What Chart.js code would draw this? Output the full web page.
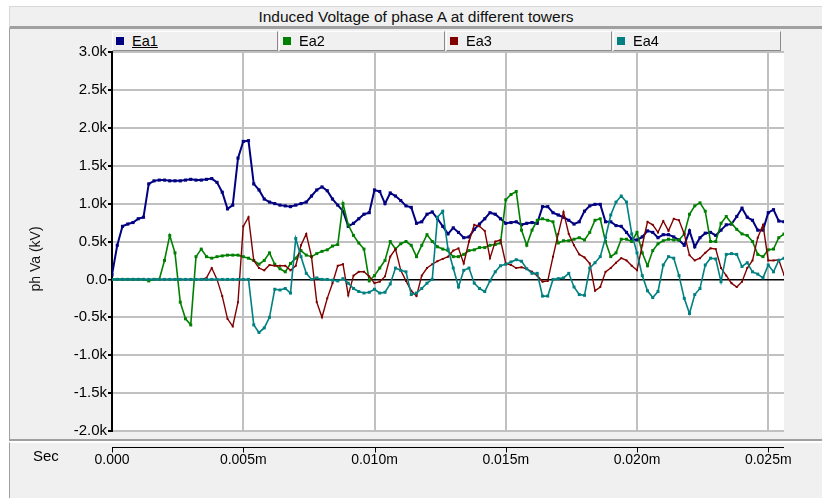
<!DOCTYPE html>
<html>
<head>
<meta charset="utf-8">
<script src="https://cdn.jsdelivr.net/npm/chart.js@4.4.0/dist/chart.umd.min.js"></script>
<style>
body { margin: 0; background: #fff; font-family: "Liberation Sans", Arial, sans-serif; }
#wrap { position: relative; width: 822px; height: 498px; overflow: hidden; }
.panel { position: absolute; background: #f0f0f0; box-sizing: border-box; }
#titlebar { left: 9px; top: 6px; width: 813px; height: 23px; border-top: 1px solid #d8d8d8; border-left: 1px solid #d8d8d8; border-bottom: 3px solid #a0a0a0; text-align: center; font-size: 15.5px; line-height: 19px; color: #111; }
#plotpanel { left: 9px; top: 29px; width: 813px; height: 412px; border-left: 1px solid #a0a0a0; border-bottom: 2px solid #a0a0a0; }
#axispanel { left: 9px; top: 442px; width: 813px; height: 56px; border-left: 1px solid #a0a0a0; border-top: 1px solid #fff; }
#chart { position: absolute; left: 0; top: 0; }
.leg { position: absolute; top: 31px; height: 20px; box-sizing: border-box; background: #f0f0f0; border: 1px solid; border-color: #fff #8a8a8a #8a8a8a #fff; font-size: 14.5px; line-height: 18px; padding-left: 19px; color: #000; }
.leg i { position: absolute; left: 3px; top: 5px; width: 8px; height: 8px; }
#ytitle { position: absolute; left: 35px; top: 259px; transform: translate(-50%, -50%) rotate(-90deg); font-size: 14px; white-space: nowrap; color: #111; }
#sec { position: absolute; left: 33px; top: 447px; font-size: 15px; }
</style>
</head>
<body>
<div id="wrap">
  <div class="panel" id="titlebar">Induced Voltage of phase A at different towers</div>
  <div class="panel" id="plotpanel"></div>
  <div class="panel" id="axispanel"></div>
  <canvas id="chart" width="822" height="498"></canvas>
  <div id="legend"></div>
  <div id="ytitle">ph Va (kV)</div>
  <div id="sec">Sec</div>
</div>
<script>
// sample spacing of the traces (same units as the x axis labels)
const sampleStep = 0.0002;
const xTicks = [0, 0.005, 0.010, 0.015, 0.020, 0.025];
const yTicks = [-2.0, -1.5, -1.0, -0.5, 0, 0.5, 1.0, 1.5, 2.0, 2.5, 3.0];
const seriesNames = ['Ea1', 'Ea2', 'Ea3', 'Ea4'];
const seriesColors = ['#000080', '#008000', '#800000', '#008080'];

// values in kV
const ea1 = [0.06, 0.45, 0.70, 0.73, 0.75, 0.80, 0.82, 1.26, 1.30, 1.31,
  1.31, 1.30, 1.30, 1.30, 1.31, 1.32, 1.31, 1.31, 1.32, 1.33,
  1.28, 1.15, 0.93, 0.98, 1.60, 1.82, 1.83, 1.26, 1.18, 1.06,
  1.02, 1.00, 0.98, 0.97, 0.96, 0.98, 1.00, 1.02, 1.10, 1.18,
  1.22, 1.17, 1.06, 0.98, 0.90, 0.70, 0.74, 0.80, 0.86, 0.88,
  1.18, 1.16, 1.00, 1.14, 1.10, 1.04, 0.97, 0.95, 0.74, 0.76,
  0.86, 0.89, 0.80, 0.70, 0.60, 0.68, 0.62, 0.55, 0.56, 0.66,
  0.73, 0.80, 0.88, 0.86, 0.80, 0.74, 0.75, 0.76, 0.72, 0.74,
  0.75, 0.74, 0.96, 0.96, 0.88, 0.85, 0.82, 0.78, 0.73, 0.76,
  0.90, 0.97, 0.99, 0.99, 0.76, 0.76, 0.71, 0.70, 0.62, 0.53,
  0.52, 0.56, 0.64, 0.62, 0.55, 0.59, 0.59, 0.56, 0.52, 0.45,
  0.64, 0.43, 0.55, 0.61, 0.62, 0.58, 0.65, 0.72, 0.73, 0.83,
  0.94, 0.82, 0.78, 0.65, 0.65, 0.88, 0.92, 0.77, 0.76];

const ea2 = [0, 0, 0, 0, 0, 0, 0, -0.02, 0, 0,
  0.25, 0.58, 0.35, -0.30, -0.52, -0.60, 0.30, 0.40, 0.30, 0.28,
  0.30, 0.31, 0.32, 0.32, 0.32, 0.30, 0.28, 0.25, 0.20, 0.25,
  0.35, 0.20, 0.14, 0.10, 0.21, 0.28, 0.38, 0.32, 0.30, 0.34,
  0.37, 0.39, 0.44, 0.46, 1.00, 0.72, 0.58, 0.48, 0.40, -0.02,
  0.05, 0.15, 0.25, 0.50, 0.40, 0.47, 0.50, 0.45, 0.30, 0.45,
  0.59, 0.50, 0.43, 0.40, 0.38, 0.30, 0.30, 0.33, 0.38, 0.39,
  0.42, 0.42, 0.45, 0.46, 0.48, 1.05, 1.12, 1.16, 0.65, 0.45,
  0.65, 0.78, 0.80, 0.78, 0.76, 0.48, 0.51, 0.51, 0.53, 0.55,
  0.52, 0.62, 0.78, 0.80, 0.50, 0.30, 0.35, 0.53, 0.53, 0.50,
  0.62, 0.35, 0.18, 0.38, 0.47, 0.51, 0.53, 0.52, 0.52, 0.60,
  0.86, 0.97, 1.01, 0.90, 0.50, 0.50, 0.74, 0.83, 0.74, 0.66,
  0.60, 0.58, 0.50, 0.33, 0.30, 0.39, 0.40, 0.55, 0.60];

const ea3 = [0, 0, 0, 0, 0, 0, 0, 0, 0, 0,
  0, 0, 0, 0, 0, 0, 0, 0, 0.02, 0.15,
  0.00, -0.22, -0.52, -0.62, -0.30, 0.70, 0.82, 0.25, 0.15, 0.12,
  0.19, 0.18, 0.18, 0.18, 0.12, 0.18, 0.45, 0.60, 0.30, -0.30,
  -0.50, -0.25, -0.05, 0.18, 0.20, -0.21, 0.05, 0.10, 0.10, 0.04,
  -0.05, -0.03, 0.04, 0.30, 0.40, 0.12, -0.02, -0.15, -0.22, 0.05,
  0.15, 0.20, 0.24, 0.27, 0.30, 0.38, 0.41, 0.21, 0.50, 0.72,
  0.70, 0.64, 0.28, 0.50, 0.52, 0.21, 0.19, 0.15, 0.16, 0.14,
  0.10, 0.05, -0.03, -0.02, 0.30, 0.60, 0.89, 0.60, 0.45, 0.33,
  0.29, 0.21, -0.15, -0.10, 0.10, 0.15, 0.22, 0.28, 0.25, 0.18,
  0.12, 0.45, 0.76, 0.72, 0.62, 0.77, 0.64, 0.80, 0.78, 0.60,
  0.32, 0.25, 0.28, 0.35, 0.41, 0.40, 0.15, 0.05, -0.05, -0.10,
  -0.03, 0.15, 0.25, 0.55, 0.72, 0.25, 0.25, 0.26, 0.06];

const ea4 = [0, 0, 0, 0, 0, 0, 0, 0, 0, 0,
  0, 0, 0, 0, 0, 0, 0, 0, 0, 0,
  0, 0, 0, 0, 0, 0, 0, -0.60, -0.70, -0.64,
  -0.50, -0.13, -0.14, -0.12, -0.18, 0.54, 0.30, 0.08, 0.00, 0.02,
  0.00, 0.00, -0.01, -0.02, 0.01, -0.05, -0.12, -0.16, -0.18, -0.17,
  -0.13, -0.18, -0.17, -0.06, 0.15, 0.12, 0.10, -0.20, -0.18, -0.12,
  -0.05, 0.00, 0.82, 0.90, 0.40, 0.15, -0.10, 0.12, 0.15, -0.05,
  -0.12, -0.16, -0.02, 0.10, 0.18, 0.20, 0.23, 0.26, 0.24, 0.14,
  0.08, 0.08, -0.22, -0.22, 0.00, 0.01, 0.02, 0.08, -0.10, -0.20,
  -0.21, 0.15, 0.22, 0.30, 0.55, 0.85, 1.02, 1.10, 1.02, 0.60,
  0.35, 0.05, -0.15, -0.24, -0.16, 0.19, 0.30, 0.28, 0.05, -0.25,
  -0.45, -0.20, -0.12, 0.19, 0.28, 0.27, -0.03, 0.33, 0.34, 0.33,
  0.17, 0.22, 0.10, 0.07, 0.02, 0.19, 0.10, 0.25, 0.28];

const seriesValues = [ea1, ea2, ea3, ea4];

function toPoints(values) {
  return values.map((v, i) => ({ x: i * sampleStep, y: v }));
}

// legend boxes above the plot
const legendBoxes = [[112, 166], [279, 166], [446, 166], [613, 168]];
const legend = document.getElementById('legend');
seriesNames.forEach((name, i) => {
  const box = document.createElement('div');
  box.className = 'leg';
  box.style.left = legendBoxes[i][0] + 'px';
  box.style.width = legendBoxes[i][1] + 'px';
  box.innerHTML = '<i style="background:' + seriesColors[i] + '"></i>' +
    (i === 0 ? '<u>' + name + '</u>' : name);
  legend.appendChild(box);
});

const plotFrame = {
  id: 'plotFrame',
  beforeDraw(chart) {
    const { ctx, chartArea: a } = chart;
    ctx.save();
    ctx.fillStyle = '#fff';
    ctx.fillRect(a.left, a.top, a.right - a.left, a.bottom - a.top);
    ctx.restore();
  },
  afterDraw(chart) {
    // time axis lives in its own panel under the plot
    const { ctx, chartArea: a } = chart;
    const xs = chart.scales.x;
    const yLine = a.bottom + 16.5;
    ctx.save();
    ctx.strokeStyle = '#000';
    ctx.lineWidth = 1;
    ctx.beginPath();
    ctx.moveTo(a.left, yLine);
    ctx.lineTo(a.right, yLine);
    xs.ticks.forEach(t => {
      const px = Math.round(xs.getPixelForValue(t.value)) + 0.5;
      ctx.moveTo(px, yLine);
      ctx.lineTo(px, yLine + 5);
    });
    ctx.stroke();
    ctx.restore();
  }
};

const orders = [4, 3, 2, 1];
const widths = [2, 1.6, 1.4, 1.6];
const radii = [2.2, 2.1, 1.4, 2.1];

new Chart(document.getElementById('chart'), {
  type: 'line',
  data: {
    datasets: seriesNames.map((name, i) => ({
      label: name,
      data: toPoints(seriesValues[i]),
      borderColor: seriesColors[i],
      backgroundColor: seriesColors[i],
      borderWidth: widths[i],
      pointStyle: 'rect',
      pointRadius: radii[i],
      pointBorderWidth: 0,
      tension: 0,
      order: orders[i]
    }))
  },
  options: {
    responsive: false,
    animation: false,
    layout: { padding: { left: 17, top: 52, right: 38, bottom: 0 } },
    plugins: { legend: { display: false }, title: { display: false }, tooltip: { enabled: false } },
    scales: {
      x: {
        type: 'linear',
        min: 0,
        max: 0.0256,
        afterFit: s => { s.height = 67; },
        afterBuildTicks: s => { s.ticks = xTicks.map(v => ({ value: v })); },
        grid: { color: '#c0c0c0', lineWidth: 2, drawTicks: false },
        border: { display: false },
        ticks: {
          padding: 21,
          color: '#000',
          font: { family: '"Liberation Sans", Arial, sans-serif', size: 14 },
          callback: v => v === 0 ? '0.000' : v.toFixed(3) + 'm'
        }
      },
      y: {
        min: -2,
        max: 3,
        afterFit: s => { s.width = 95; },
        afterBuildTicks: s => { s.ticks = yTicks.map(v => ({ value: v })); },
        grid: {
          color: c => c.tick && c.tick.value === 0 ? '#000' : '#c0c0c0',
          lineWidth: c => c.tick && c.tick.value === 0 ? 1.5 : 2,
          tickColor: '#000',
          tickLength: 4
        },
        border: { color: '#000', width: 2 },
        ticks: {
          padding: 1,
          color: '#000',
          font: { family: '"Liberation Sans", Arial, sans-serif', size: 15 },
          callback: v => v === 0 ? '0.0' : v.toFixed(1) + 'k'
        }
      }
    }
  },
  plugins: [plotFrame]
});
</script>
</body>
</html>
